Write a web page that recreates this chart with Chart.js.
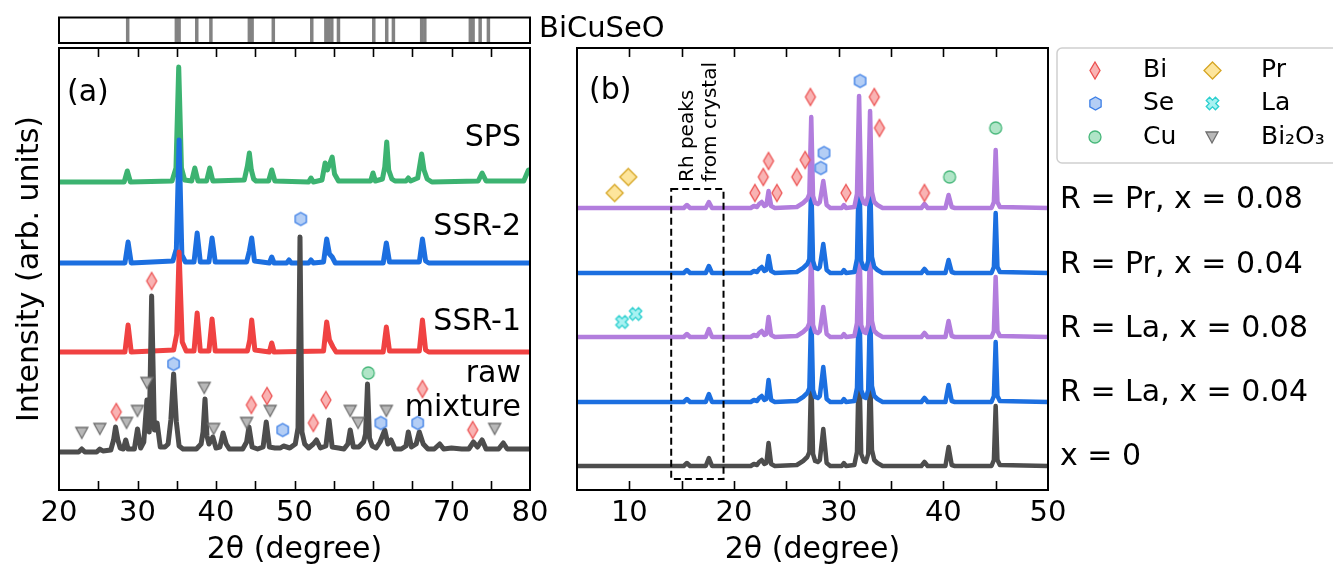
<!DOCTYPE html>
<html><head><meta charset="utf-8">
<script src="https://cdn.jsdelivr.net/npm/chart.js@4"></script>
<style>
html,body{margin:0;padding:0;background:#fff;}
#wrap{position:relative;width:1333px;height:570px;overflow:hidden;background:#fff;}
#wrap canvas{position:absolute;left:0;top:0;}
</style></head><body>
<div id="wrap">
<canvas id="cA" width="1333" height="570"></canvas>
<canvas id="cB" width="1333" height="570"></canvas>
<canvas id="cS" width="1333" height="570"></canvas>
</div>
<script>
// ---------------- DATA ----------------
// Reference BiCuSeO line positions (2θ)
const bicuseoRef = [28.75, 34.95, 35.3, 37.55, 39.35, 44.25, 44.6, 47.3, 52.2, 54.0, 54.3, 54.75, 55.6, 60.1, 61.75, 62.6, 66.2, 66.6, 72.4, 72.75, 73.65, 74.7];

// Panel (a): series names, vertical offsets, profiles [2θ, relative intensity]
const seriesA = ['SPS', 'SSR-2', 'SSR-1', 'raw mixture'];
const offsetsA = [308, 227, 138, 38];
const spsProfile = [[20,0],[28.3,0],[28.7,11],[29.1,0],[34.4,1],[34.9,14],[35.25,115],[35.6,14],[36.0,2],[36.9,1],[37.3,14],[37.7,1],[38.8,1],[39.2,14],[39.6,1],[43.6,2],[44.0,16],[44.25,29],[44.5,12],[44.8,3],[45.1,1],[46.7,1],[47.1,12],[47.5,1],[51.8,0],[52.1,4],[52.4,0],[53.5,2],[53.9,19],[54.2,12],[54.8,25],[55.1,8],[55.6,1],[59.7,1],[60.0,9],[60.3,1],[61.2,3],[61.5,15],[61.75,40],[62.0,12],[62.4,3],[62.8,1],[64.2,1],[64.5,4],[64.8,1],[65.7,4],[65.95,16],[66.2,28],[66.5,12],[66.9,3],[67.5,0],[73.4,1],[73.9,9],[74.4,1],[79.2,1],[79.8,12],[80,12]];
const ssr2Profile = [[20,0],[28.4,0],[28.8,21],[29.2,0],[34.5,2],[34.95,14],[35.3,123],[35.65,8],[36.1,1],[37.2,1],[37.6,30],[38.0,1],[39.1,1],[39.5,25],[39.9,1],[43.9,1],[44.25,12],[44.55,25],[44.9,2],[46.8,0],[47.1,6],[47.4,0],[49.0,0],[49.3,3],[49.6,0],[51.8,0],[52.1,3],[52.4,0],[53.7,1],[54.1,24],[54.45,9],[54.8,6],[55.2,0],[61.3,0],[61.7,20],[62.1,1],[65.9,1],[66.3,24],[66.7,2],[67.1,0],[80,0]];
const ssr1Profile = [[20,0],[28.4,0],[28.8,27],[29.2,0],[34.6,2],[35.0,18],[35.3,100],[35.7,10],[36.2,1],[37.2,1],[37.6,39],[38.0,1],[39.1,1],[39.5,33],[39.9,1],[44.0,1],[44.3,12],[44.55,32],[44.95,2],[46.8,0],[47.1,9],[47.4,0],[53.7,1],[54.1,30],[54.45,12],[54.9,5],[55.3,0],[61.3,0],[61.7,25],[62.1,1],[65.9,1],[66.3,32],[66.7,2],[67.1,0],[80,0]];
const rawProfile = [[20,0],[22.5,0],[22.9,3],[23.3,0],[24.8,0],[25.2,3],[25.6,1],[26.6,2],[26.95,12],[27.2,25],[27.5,12],[27.8,4],[28.2,3],[28.5,12],[28.8,3],[29.6,3],[30.0,23],[30.4,4],[30.8,10],[31.2,52],[31.5,20],[31.8,156],[32.15,22],[32.5,29],[32.9,5],[33.5,5],[33.9,8],[34.25,32],[34.6,78],[34.95,30],[35.3,6],[35.8,3],[36.6,3],[37.5,3],[38.1,8],[38.35,20],[38.6,53],[38.85,16],[39.1,8],[39.6,15],[40.0,4],[40.5,5],[40.9,19],[41.3,8],[41.7,3],[42.6,3],[43.4,3],[43.9,10],[44.2,25],[44.6,5],[45.3,3],[46.0,5],[46.4,30],[46.8,5],[47.5,4],[48.2,4],[48.6,6],[49.4,4],[50.1,8],[50.45,24],[50.7,215],[50.95,20],[51.3,8],[51.8,4],[52.4,8],[52.8,12],[53.3,4],[54.0,6],[54.4,32],[54.8,5],[55.6,4],[56.3,3],[56.8,8],[57.1,22],[57.5,5],[58.2,5],[58.8,10],[59.05,18],[59.3,68],[59.55,14],[59.9,6],[60.4,4],[60.9,10],[61.2,16],[61.5,22],[61.9,8],[62.3,12],[62.8,3],[63.6,3],[64.2,6],[64.5,20],[64.9,5],[65.5,8],[65.9,20],[66.4,8],[67.0,3],[67.8,3],[68.5,8],[69.0,3],[70.0,4],[71.3,3],[72.2,3],[72.8,10],[73.3,5],[73.9,12],[74.4,3],[75.2,3],[76.0,3],[76.6,9],[77.1,3],[78.0,3],[80,3]];

// Panel (a) phase markers [2θ, intensity]
const aBi    = [[31.8,209],[27.3,78],[44.5,85],[46.5,94],[52.4,67],[54.0,90],[66.3,101],[72.7,60]];
const aSe    = [[34.6,126],[48.5,60],[61.0,67],[65.7,67],[50.8,271]];
const aCu    = [[59.4,117]];
const aBi2O3 = [[22.9,57],[25.2,61],[28.6,67],[30.0,79],[31.2,107],[38.5,102],[39.7,61],[43.9,67],[46.9,79],[57.1,79],[58.1,67],[61.7,79],[75.5,61]];

// Panel (b): common 2θ grid and relative intensities per sample
const seriesB = ['R = Pr, x = 0.08', 'R = Pr, x = 0.04', 'R = La, x = 0.08', 'R = La, x = 0.04', 'x = 0'];
const offsetsB = [282, 217, 153, 88, 24];
const bTheta = [5, 15.2, 15.5, 15.8, 17.3, 17.6, 17.9, 21.6, 21.9, 22.2,
                22.4, 22.65, 22.9, 23.1, 23.3, 23.55, 23.9, 26.0, 26.6, 27.0,
                27.2, 27.38, 27.55, 27.75, 28.0, 28.2, 28.53, 28.85, 29.2, 30.3,
                30.5, 30.7, 31.5, 31.75, 31.95, 32.15, 32.4, 32.6, 32.82, 33.0,
                33.18, 33.4, 33.7, 34.2, 37.9, 38.2, 38.5, 40.2, 40.5, 40.8,
                41.1, 44.6, 44.83, 45.0, 45.17, 45.4, 50];
const bPr08 = [0,0,3,0,0,6,0,0,2,1, 4,6,2,3,17,2,0,1,5,9, 14,91,12,5,4,6,27,3,0,0, 3,0,1,14,112,12,5,4,12,97, 16,6,3,0,0,4,0,0,13,1, 0,0,6,58,6,1,0];
const bPr04 = [0,0,3,0,0,7,0,0,2,1, 4,6,2,3,17,2,0,1,5,9, 14,92,12,5,4,6,29,3,0,0, 3,0,1,14,112,12,5,4,12,97, 16,6,3,0,0,4,0,0,13,1, 0,0,6,60,6,1,0];
const bLa08 = [0,0,3,0,0,8,0,0,2,1, 4,6,2,3,20,2,0,1,5,9, 14,92,12,5,4,6,30,3,0,0, 3,0,1,14,112,12,5,4,12,97, 16,6,3,0,0,4,0,0,16,1, 0,0,6,60,6,1,0];
const bLa04 = [0,0,3,0,0,8,0,0,2,1, 4,6,2,3,22,2,0,1,5,9, 14,93,12,5,4,6,35,3,0,0, 3,0,1,14,112,12,5,4,12,97, 16,6,3,0,0,4,0,0,17,1, 0,0,6,60,6,1,0];
const bX0   = [0,0,3,0,0,8,0,0,2,1, 4,6,2,3,23,2,0,1,5,9, 14,94,12,5,4,6,37,3,0,0, 3,0,1,14,112,12,5,4,12,97, 16,6,3,0,0,4,0,0,19,1, 0,0,6,60,6,1,0];

// Panel (b) phase markers [2θ, intensity]
const bBi = [[22.0,297],[22.8,313],[23.3,329],[24.1,297],[26.0,313],[26.8,330],[27.3,393],[30.7,297],[33.4,393],[33.9,362],[38.2,297]];
const bSe = [[32.05,409],[28.6,337],[28.3,322]];
const bCu = [[45.0,362],[40.6,313]];
const bPr = [[8.6,297],[9.9,313]];
const bLa = [[9.3,168],[10.6,176]];

const legendLabels = ['Bi', 'Se', 'Cu', 'Pr', 'La', 'Bi₂O₃'];

// ---------------- STYLE ----------------
Chart.defaults.font.family = "'DejaVu Sans', sans-serif";
Chart.defaults.color = '#000';
const COL = {green:'#3cb371', blue:'#1c6fe0', red:'#f04242', gray:'#4d4d4d', purple:'#b27ddd'};

function marker(shape, w, h, fill, stroke) {
  const c = document.createElement('canvas');
  c.width = w + 4; c.height = h + 4;
  const g = c.getContext('2d');
  const cx = c.width / 2, cy = c.height / 2;
  g.beginPath();
  if (shape === 'diamond') {
    g.moveTo(cx, cy - h/2); g.lineTo(cx + w/2, cy); g.lineTo(cx, cy + h/2); g.lineTo(cx - w/2, cy); g.closePath();
  } else if (shape === 'hex') {
    for (let i = 0; i < 6; i++) {
      const a = -Math.PI/2 + i * Math.PI/3;
      const x = cx + (h/2) * Math.cos(a), y = cy + (h/2) * Math.sin(a);
      if (i) g.lineTo(x, y); else g.moveTo(x, y);
    }
    g.closePath();
  } else if (shape === 'circle') {
    g.arc(cx, cy, w/2, 0, Math.PI*2);
  } else if (shape === 'tri') {
    g.moveTo(cx - w/2, cy - h/2); g.lineTo(cx + w/2, cy - h/2); g.lineTo(cx, cy + h/2); g.closePath();
  } else if (shape === 'x') {
    const L = w/2, s = w*0.18;
    const p = [[s,L],[s,s],[L,s],[L,-s],[s,-s],[s,-L],[-s,-L],[-s,-s],[-L,-s],[-L,s],[-s,s],[-s,L]];
    const r = Math.PI/4;
    p.forEach(([x,y],i) => {
      const X = cx + x*Math.cos(r) - y*Math.sin(r), Y = cy + x*Math.sin(r) + y*Math.cos(r);
      if (i) g.lineTo(X, Y); else g.moveTo(X, Y);
    });
    g.closePath();
  }
  g.fillStyle = fill; g.fill();
  g.lineWidth = 1.3; g.strokeStyle = stroke; g.stroke();
  return c;
}
const MK = {
  Bi: marker('diamond', 10, 17, '#f9b3b3', '#ec5050'),
  Se: marker('hex', 11, 13, '#b4cef5', '#3d7fe6'),
  Cu: marker('circle', 12, 12, '#b0e5c7', '#48b87b'),
  Pr: marker('diamond', 17, 17, '#fde59c', '#d6a523'),
  La: marker('x', 13, 13, '#a8f2f2', '#2ccfcf'),
  Bi2O3: marker('tri', 12, 11, '#b8b8b8', '#6e6e6e')
};

const toPts = (prof, off) => prof.map(([x, h]) => ({x, y: h + off}));
const toPtsB = (hs, off) => bTheta.map((x, i) => ({x, y: hs[i] + off}));
const toMk = arr => arr.map(([x, y]) => ({x, y}));

function lineDS(label, pts, color, order, w) {
  return {type:'line', label, data: pts, borderColor: color, borderWidth: w, pointRadius: 0,
          fill: false, tension: 0, borderJoinStyle: 'round', borderCapStyle: 'round', order};
}
function mkDS(label, pts, style) {
  return {type:'scatter', label, data: pts, pointStyle: style, pointRadius: 7, showLine: false, order: 0};
}

// ---------------- PLUGINS ----------------
const decoPlugin = {
  id: 'deco',
  afterDraw(chart, args, o) {
    const {ctx, chartArea: a} = chart;
    ctx.save();
    if (o.ticks) {
      const xs = chart.scales.x;
      ctx.strokeStyle = '#000'; ctx.lineWidth = 1.6;
      xs.ticks.forEach(t => {
        if (t.value <= xs.min || t.value >= xs.max) return;
        const px = Math.round(xs.getPixelForValue(t.value)) + 0.5;
        ctx.beginPath();
        ctx.moveTo(px, a.bottom); ctx.lineTo(px, a.bottom - 9);
        ctx.moveTo(px, a.top); ctx.lineTo(px, a.top + 9);
        ctx.stroke();
      });
    }
    if (o.rhBox) {
      const xs = chart.scales.x, ys = chart.scales.y, b = o.rhBox;
      const x0 = xs.getPixelForValue(b.x0), x1 = xs.getPixelForValue(b.x1);
      const y0 = ys.getPixelForValue(b.y1), y1 = ys.getPixelForValue(b.y0);
      ctx.setLineDash([7, 4]); ctx.lineWidth = 2; ctx.strokeStyle = '#000';
      ctx.strokeRect(x0, y0, x1 - x0, y1 - y0);
      ctx.setLineDash([]);
      ctx.fillStyle = '#000'; ctx.font = "20px 'DejaVu Sans'"; ctx.textAlign = 'left'; ctx.textBaseline = 'middle';
      b.lines.forEach((ln, i) => {
        ctx.save(); ctx.translate(b.tx[i], b.ty); ctx.rotate(-Math.PI/2); ctx.fillText(ln, 0, 0); ctx.restore();
      });
    }
    ctx.lineWidth = 2; ctx.strokeStyle = '#000';
    ctx.strokeRect(a.left, a.top, a.right - a.left, a.bottom - a.top);
    (o.texts || []).forEach(t => {
      ctx.fillStyle = '#000';
      ctx.font = (t.size || 30) + "px 'DejaVu Sans'";
      ctx.textAlign = t.align || 'left'; ctx.textBaseline = 'middle';
      ctx.fillText(t.t, t.x, t.y);
    });
    if (o.legend) {
      const L = o.legend;
      ctx.fillStyle = '#fff'; ctx.strokeStyle = '#cfcfcf'; ctx.lineWidth = 1.5;
      ctx.beginPath(); ctx.roundRect(L.x, L.y, L.w, L.h, 5); ctx.fill(); ctx.stroke();
      ctx.fillStyle = '#000'; ctx.font = "25px 'DejaVu Sans'"; ctx.textAlign = 'left'; ctx.textBaseline = 'middle';
      L.items.forEach(it => {
        ctx.drawImage(it.img, Math.round(it.mx - it.img.width/2), Math.round(it.y - it.img.height/2));
        ctx.fillText(it.label, it.tx, it.y);
      });
    }
    ctx.restore();
  }
};

const common = {responsive: false, animation: false, devicePixelRatio: 1, events: []};
function xAxis(min, max, hideFirst) {
  return {
    type: 'linear', min, max, position: 'bottom',
    ticks: {stepSize: 5, autoSkip: false, maxRotation: 0, padding: 6, font: {size: 29},
            callback: v => (v % 10 === 0 && !(hideFirst && v === min)) ? String(v) : ''},
    grid: {display: false, drawTicks: false}, border: {display: false},
    title: {display: true, text: '2θ (degree)', font: {size: 30}, padding: {top: 0, bottom: 2}},
    afterFit(s) { s.height = 80; }
  };
}

// ---------------- CHART A ----------------
new Chart(document.getElementById('cA'), {
  type: 'line',
  data: {datasets: [
    mkDS('Bi', toMk(aBi), MK.Bi),
    mkDS('Se', toMk(aSe), MK.Se),
    mkDS('Cu', toMk(aCu), MK.Cu),
    mkDS('Bi₂O₃', toMk(aBi2O3), MK.Bi2O3),
    lineDS(seriesA[3], toPts(rawProfile, offsetsA[3]), COL.gray, 1, 5),
    lineDS(seriesA[2], toPts(ssr1Profile, offsetsA[2]), COL.red, 2, 5),
    lineDS(seriesA[1], toPts(ssr2Profile, offsetsA[1]), COL.blue, 3, 5),
    lineDS(seriesA[0], toPts(spsProfile, offsetsA[0]), COL.green, 4, 5)
  ]},
  options: Object.assign({}, common, {
    layout: {padding: {left: 0, top: 48, right: 803, bottom: 0}},
    scales: {
      x: xAxis(20, 80, false),
      y: {min: 0, max: 442, position: 'left',
          ticks: {display: false}, grid: {display: false, drawTicks: false}, border: {display: false},
          title: {display: true, text: 'Intensity (arb. units)', font: {size: 30}, padding: {top: 12, bottom: 0}},
          afterFit(s) { s.width = 59; }}
    },
    plugins: {legend: {display: false}, tooltip: {enabled: false},
      deco: {ticks: true, texts: [
        {t: '(a)', x: 67, y: 93},
        {t: 'SPS', x: 521, y: 138, align: 'right'},
        {t: 'SSR-2', x: 521, y: 227, align: 'right'},
        {t: 'SSR-1', x: 521, y: 322, align: 'right'},
        {t: 'raw', x: 521, y: 374, align: 'right'},
        {t: 'mixture', x: 521, y: 408, align: 'right'}
      ]}}
  }),
  plugins: [decoPlugin]
});

// ---------------- CHART B ----------------
new Chart(document.getElementById('cB'), {
  type: 'line',
  data: {datasets: [
    mkDS('Bi', toMk(bBi), MK.Bi),
    mkDS('Se', toMk(bSe), MK.Se),
    mkDS('Cu', toMk(bCu), MK.Cu),
    mkDS('Pr', toMk(bPr), MK.Pr),
    mkDS('La', toMk(bLa), MK.La),
    lineDS(seriesB[0], toPtsB(bPr08, offsetsB[0]), COL.purple, 1, 4.5),
    lineDS(seriesB[1], toPtsB(bPr04, offsetsB[1]), COL.blue, 2, 4.5),
    lineDS(seriesB[2], toPtsB(bLa08, offsetsB[2]), COL.purple, 3, 4.5),
    lineDS(seriesB[3], toPtsB(bLa04, offsetsB[3]), COL.blue, 4, 4.5),
    lineDS(seriesB[4], toPtsB(bX0, offsetsB[4]), COL.gray, 5, 4.5)
  ]},
  options: Object.assign({}, common, {
    layout: {padding: {left: 577, top: 48, right: 285, bottom: 0}},
    scales: {
      x: xAxis(5, 50, true),
      y: {min: 0, max: 442, display: false}
    },
    plugins: {legend: {display: false}, tooltip: {enabled: false},
      deco: {
        ticks: true,
        rhBox: {x0: 14, x1: 19, y0: 11, y1: 301, lines: ['Rh peaks', 'from crystal'], tx: [688, 711], ty: 182},
        texts: [
          {t: '(b)', x: 589, y: 91},
          {t: seriesB[0], x: 1060, y: 200},
          {t: seriesB[1], x: 1060, y: 265},
          {t: seriesB[2], x: 1060, y: 329},
          {t: seriesB[3], x: 1060, y: 393},
          {t: seriesB[4], x: 1060, y: 457}
        ],
        legend: {x: 1057, y: 48, w: 300, h: 115, items: [
          {img: MK.Bi, mx: 1095, tx: 1143, y: 70, label: legendLabels[0]},
          {img: MK.Se, mx: 1095, tx: 1143, y: 103, label: legendLabels[1]},
          {img: MK.Cu, mx: 1095, tx: 1143, y: 137, label: legendLabels[2]},
          {img: MK.Pr, mx: 1212, tx: 1261, y: 70, label: legendLabels[3]},
          {img: MK.La, mx: 1212, tx: 1261, y: 103, label: legendLabels[4]},
          {img: MK.Bi2O3, mx: 1212, tx: 1261, y: 137, label: legendLabels[5]}
        ]}
      }}
  }),
  plugins: [decoPlugin]
});

// ---------------- STRIP (BiCuSeO reference) ----------------
new Chart(document.getElementById('cS'), {
  type: 'scatter',
  data: {datasets: [{
    label: 'BiCuSeO', data: bicuseoRef.map(v => ({x: v, y: 0.5})),
    pointStyle: 'line', pointRadius: 14, pointRotation: 90,
    pointBorderWidth: 3.5, pointBorderColor: '#838383', pointBackgroundColor: '#838383'
  }]},
  options: Object.assign({}, common, {
    layout: {padding: {left: 59, top: 15, right: 803, bottom: 527}},
    scales: {x: {type: 'linear', min: 20, max: 80, display: false}, y: {min: 0, max: 1, display: false}},
    plugins: {legend: {display: false}, tooltip: {enabled: false},
      deco: {ticks: false, texts: [{t: 'BiCuSeO', x: 539, y: 29, size: 29}]}}
  }),
  plugins: [decoPlugin]
});
</script>
</body></html>
